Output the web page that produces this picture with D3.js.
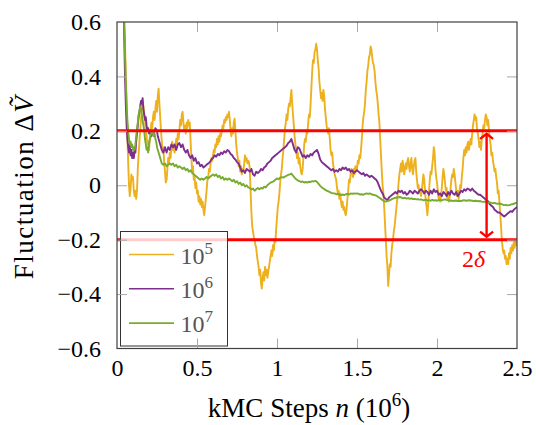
<!DOCTYPE html>
<html>
<head>
<meta charset="utf-8">
<script src="https://cdn.jsdelivr.net/npm/d3@7"></script>
<style>
  html, body { margin: 0; padding: 0; background: #fff; }
  svg { display: block; }
  svg text { font-family: "Liberation Serif", "Times New Roman", Tinos, "DejaVu Serif", "Noto Serif", serif; }
</style>
</head>
<body>
<svg id="chart" width="536" height="425"></svg>
<script>
// Fluctuation of the estimate versus number of kMC steps, for three sample sizes.

const xTicks = [0, 0.5, 1, 1.5, 2, 2.5];
const yTicks = [-0.6, -0.4, -0.2, 0, 0.2, 0.4, 0.6];
const seriesLabels = ["5", "6", "7"];           // exponents: 10^5, 10^6, 10^7
const seriesColors = ["#EDB120", "#7E2F8E", "#77AC30"];
const deltaBand = [0.2, -0.2];
const arrowStep = 2.31;

// [n (10^6 steps), ΔV]
const seriesE5 = [
  [0.035,0.9],[0.045,0.62],[0.05,0.52],[0.055,0.4],[0.06,0.3],[0.065,0.18],[0.07,0.08],[0.075,0.0],[0.08,-0.04],[0.085,-0.01],
  [0.09,0.04],[0.095,0.02],[0.1,0.03],[0.105,-0.02],[0.11,-0.04],[0.115,-0.02],[0.12,-0.05],[0.125,-0.02],[0.13,0.06],[0.135,0.11],
  [0.14,0.16],[0.145,0.2],[0.15,0.24],[0.155,0.28],[0.16,0.31],[0.165,0.29],[0.17,0.26],[0.175,0.24],[0.18,0.2],[0.185,0.18],
  [0.19,0.15],[0.195,0.16],[0.2,0.13],[0.205,0.17],[0.21,0.2],[0.215,0.23],[0.22,0.21],[0.225,0.25],[0.23,0.27],[0.235,0.24],
  [0.24,0.28],[0.245,0.31],[0.25,0.27],[0.255,0.33],[0.26,0.355],[0.265,0.3],[0.27,0.25],[0.275,0.2],[0.28,0.16],[0.285,0.12],
  [0.29,0.14],[0.295,0.08],[0.3,0.05],[0.305,0.01],[0.31,0.02],[0.315,0.06],[0.32,0.1],[0.325,0.08],[0.33,0.12],[0.335,0.1],
  [0.34,0.14],[0.345,0.16],[0.35,0.13],[0.355,0.15],[0.36,0.12],[0.365,0.14],[0.37,0.17],[0.375,0.15],[0.38,0.19],[0.385,0.17],
  [0.39,0.2],[0.395,0.24],[0.4,0.22],[0.405,0.26],[0.41,0.27],[0.415,0.23],[0.42,0.2],[0.425,0.22],[0.43,0.19],[0.435,0.23],
  [0.44,0.21],[0.445,0.24],[0.45,0.22],[0.455,0.23],[0.46,0.16],[0.465,0.1],[0.47,0.05],[0.475,0.07],[0.48,0.02],[0.485,0.03],
  [0.49,-0.01],[0.495,0.01],[0.5,-0.03],[0.505,-0.02],[0.51,-0.06],[0.515,-0.04],[0.52,-0.07],[0.525,-0.05],[0.53,-0.08],[0.535,-0.06],
  [0.54,-0.09],[0.545,-0.11],[0.55,-0.08],[0.555,-0.05],[0.56,-0.02],[0.565,0.02],[0.57,0.03],[0.575,0.06],[0.58,0.05],[0.585,0.08],
  [0.59,0.1],[0.595,0.09],[0.6,0.11],[0.605,0.13],[0.61,0.12],[0.615,0.15],[0.62,0.14],[0.625,0.17],[0.63,0.15],[0.635,0.18],
  [0.64,0.16],[0.645,0.19],[0.65,0.18],[0.655,0.2],[0.66,0.22],[0.665,0.21],[0.67,0.24],[0.675,0.23],[0.68,0.25],[0.685,0.24],
  [0.69,0.26],[0.695,0.25],[0.7,0.27],[0.705,0.24],[0.71,0.2],[0.715,0.18],[0.72,0.21],[0.725,0.19],[0.73,0.23],[0.735,0.245],
  [0.74,0.2],[0.745,0.15],[0.75,0.12],[0.755,0.1],[0.76,0.07],[0.765,0.09],[0.77,0.05],[0.775,0.07],[0.78,0.04],[0.785,0.06],
  [0.79,0.05],[0.795,0.08],[0.8,0.11],[0.805,0.09],[0.81,0.1],[0.815,0.08],[0.82,0.09],[0.825,0.085],[0.83,0.06],[0.835,-0.02],
  [0.84,-0.1],[0.845,-0.15],[0.85,-0.17],[0.855,-0.19],[0.86,-0.2],[0.865,-0.22],[0.87,-0.23],[0.875,-0.26],[0.88,-0.28],[0.885,-0.3],
  [0.89,-0.33],[0.895,-0.31],[0.9,-0.36],[0.905,-0.38],[0.91,-0.34],[0.915,-0.32],[0.92,-0.35],[0.925,-0.3],[0.93,-0.33],[0.935,-0.31],
  [0.94,-0.34],[0.945,-0.32],[0.95,-0.3],[0.955,-0.28],[0.96,-0.26],[0.965,-0.24],[0.97,-0.26],[0.975,-0.22],[0.98,-0.24],[0.985,-0.2],
  [0.99,-0.21],[0.995,-0.16],[1.0,-0.12],[1.005,-0.08],[1.01,-0.06],[1.015,-0.03],[1.02,0.01],[1.025,0.04],[1.03,0.06],[1.035,0.1],
  [1.04,0.13],[1.045,0.17],[1.05,0.21],[1.055,0.23],[1.06,0.26],[1.065,0.24],[1.07,0.28],[1.075,0.3],[1.08,0.29],[1.085,0.32],
  [1.09,0.35],[1.095,0.3],[1.1,0.26],[1.105,0.22],[1.11,0.18],[1.115,0.15],[1.12,0.13],[1.125,0.1],[1.13,0.12],[1.135,0.08],
  [1.14,0.1],[1.145,0.07],[1.15,0.05],[1.155,0.04],[1.16,0.06],[1.165,0.1],[1.17,0.15],[1.175,0.17],[1.18,0.16],[1.185,0.2],
  [1.19,0.19],[1.195,0.23],[1.2,0.26],[1.205,0.25],[1.21,0.3],[1.215,0.36],[1.22,0.42],[1.225,0.46],[1.23,0.45],[1.235,0.49],
  [1.24,0.5],[1.245,0.52],[1.25,0.5],[1.255,0.46],[1.26,0.43],[1.265,0.38],[1.27,0.35],[1.275,0.32],[1.28,0.34],[1.285,0.31],
  [1.29,0.35],[1.295,0.33],[1.3,0.28],[1.305,0.25],[1.31,0.22],[1.315,0.2],[1.32,0.19],[1.325,0.21],[1.33,0.17],[1.335,0.13],
  [1.34,0.11],[1.345,0.12],[1.35,0.08],[1.355,0.06],[1.36,0.04],[1.365,0.03],[1.37,0.02],[1.375,-0.01],[1.38,-0.03],[1.385,-0.02],
  [1.39,-0.05],[1.395,-0.03],[1.4,-0.06],[1.405,-0.08],[1.41,-0.06],[1.415,-0.09],[1.42,-0.08],[1.425,-0.1],[1.43,-0.11],[1.435,-0.09],
  [1.44,-0.05],[1.445,-0.02],[1.45,0.02],[1.455,0.01],[1.46,0.04],[1.465,0.06],[1.47,0.05],[1.475,0.03],[1.48,0.06],[1.485,0.04],
  [1.49,0.07],[1.495,0.05],[1.5,0.06],[1.505,0.09],[1.51,0.08],[1.515,0.11],[1.52,0.1],[1.525,0.13],[1.53,0.17],[1.535,0.22],
  [1.54,0.25],[1.545,0.27],[1.55,0.3],[1.555,0.35],[1.56,0.38],[1.565,0.42],[1.57,0.44],[1.575,0.47],[1.58,0.48],[1.585,0.51],
  [1.59,0.5],[1.595,0.47],[1.6,0.45],[1.605,0.44],[1.61,0.42],[1.615,0.38],[1.62,0.35],[1.625,0.33],[1.63,0.3],[1.635,0.26],
  [1.64,0.23],[1.645,0.17],[1.65,0.11],[1.655,0.05],[1.66,0.0],[1.665,-0.03],[1.67,-0.08],[1.675,-0.14],[1.68,-0.2],[1.685,-0.26],
  [1.69,-0.3],[1.695,-0.37],[1.7,-0.33],[1.705,-0.29],[1.71,-0.3],[1.715,-0.25],[1.72,-0.22],[1.725,-0.2],[1.73,-0.17],[1.735,-0.15],
  [1.74,-0.12],[1.745,-0.09],[1.75,-0.06],[1.755,-0.03],[1.76,0.01],[1.765,0.04],[1.77,0.06],[1.775,0.08],[1.78,0.05],[1.785,0.09],
  [1.79,0.07],[1.795,0.04],[1.8,0.06],[1.805,0.08],[1.81,0.06],[1.815,0.09],[1.82,0.1],[1.825,0.07],[1.83,0.05],[1.835,0.08],
  [1.84,0.1],[1.845,0.06],[1.85,0.04],[1.855,0.07],[1.86,0.09],[1.865,0.1],[1.87,0.05],[1.875,0.02],[1.88,-0.01],[1.885,0.0],
  [1.89,-0.03],[1.895,-0.02],[1.9,-0.04],[1.905,-0.02],[1.91,0.01],[1.915,0.04],[1.92,0.02],[1.925,-0.02],[1.93,-0.06],[1.935,-0.08],
  [1.94,-0.11],[1.945,-0.07],[1.95,-0.02],[1.955,0.02],[1.96,0.05],[1.965,0.04],[1.97,0.07],[1.975,0.1],[1.98,0.14],[1.985,0.12],
  [1.99,0.06],[1.995,0.03],[2.0,0.01],[2.005,-0.02],[2.01,-0.05],[2.015,-0.03],[2.02,-0.06],[2.025,-0.04],[2.03,-0.01],[2.035,0.03],
  [2.04,0.06],[2.045,0.04],[2.05,0.01],[2.055,-0.02],[2.06,-0.01],[2.065,-0.05],[2.07,-0.03],[2.075,-0.06],[2.08,-0.04],[2.085,-0.01],
  [2.09,0.02],[2.095,0.04],[2.1,0.03],[2.105,0.06],[2.11,0.04],[2.115,0.01],[2.12,-0.02],[2.125,-0.04],[2.13,-0.02],[2.135,-0.05],
  [2.14,-0.03],[2.145,0.0],[2.15,-0.01],[2.155,0.03],[2.16,0.06],[2.165,0.1],[2.17,0.13],[2.175,0.11],[2.18,0.14],[2.185,0.12],
  [2.19,0.15],[2.195,0.16],[2.2,0.13],[2.205,0.15],[2.21,0.17],[2.215,0.15],[2.22,0.19],[2.225,0.22],[2.23,0.24],[2.235,0.26],
  [2.24,0.24],[2.245,0.25],[2.25,0.21],[2.255,0.19],[2.26,0.17],[2.265,0.14],[2.27,0.16],[2.275,0.13],[2.28,0.17],[2.285,0.19],
  [2.29,0.22],[2.295,0.21],[2.3,0.24],[2.305,0.26],[2.31,0.25],[2.315,0.22],[2.32,0.24],[2.325,0.2],[2.33,0.17],[2.335,0.15],
  [2.34,0.11],[2.345,0.12],[2.35,0.09],[2.355,0.07],[2.36,0.05],[2.365,0.06],[2.37,0.03],[2.375,0.01],[2.38,-0.03],[2.385,-0.02],
  [2.39,-0.06],[2.395,-0.1],[2.4,-0.15],[2.405,-0.2],[2.41,-0.23],[2.415,-0.25],[2.42,-0.24],[2.425,-0.27],[2.43,-0.26],[2.435,-0.29],
  [2.44,-0.27],[2.445,-0.29],[2.45,-0.25],[2.455,-0.27],[2.46,-0.23],[2.465,-0.25],[2.47,-0.22],[2.475,-0.24],[2.48,-0.21],[2.485,-0.23],
  [2.49,-0.2],[2.495,-0.22],[2.5,-0.21]
];

const seriesE6 = [
  [0.035,0.9],[0.045,0.55],[0.05,0.4],[0.055,0.3],[0.06,0.22],[0.065,0.17],[0.07,0.14],[0.075,0.12],[0.08,0.15],[0.085,0.11],
  [0.09,0.13],[0.095,0.1],[0.1,0.12],[0.105,0.1],[0.11,0.13],[0.115,0.12],[0.12,0.16],[0.125,0.19],[0.13,0.22],[0.135,0.25],
  [0.14,0.27],[0.145,0.29],[0.15,0.31],[0.155,0.3],[0.16,0.32],[0.165,0.28],[0.17,0.26],[0.175,0.24],[0.18,0.25],[0.185,0.22],
  [0.19,0.2],[0.195,0.21],[0.2,0.19],[0.21,0.2],[0.215,0.18],[0.22,0.19],[0.225,0.2],[0.23,0.19],[0.24,0.21],[0.25,0.2],
  [0.255,0.18],[0.26,0.17],[0.27,0.15],[0.28,0.13],[0.29,0.12],[0.3,0.14],[0.31,0.12],[0.32,0.14],[0.33,0.13],[0.34,0.15],
  [0.35,0.14],[0.36,0.15],[0.37,0.13],[0.38,0.15],[0.39,0.155],[0.4,0.14],[0.41,0.15],[0.42,0.13],[0.43,0.12],[0.44,0.13],
  [0.45,0.11],[0.46,0.1],[0.47,0.11],[0.48,0.09],[0.49,0.1],[0.5,0.08],[0.51,0.085],[0.52,0.07],[0.53,0.075],[0.54,0.065],
  [0.55,0.07],[0.56,0.075],[0.57,0.08],[0.58,0.085],[0.59,0.095],[0.6,0.1],[0.61,0.11],[0.62,0.105],[0.63,0.115],[0.64,0.11],
  [0.65,0.12],[0.66,0.115],[0.67,0.125],[0.68,0.12],[0.69,0.13],[0.7,0.125],[0.71,0.115],[0.72,0.11],[0.73,0.1],[0.74,0.095],
  [0.75,0.085],[0.76,0.08],[0.77,0.065],[0.78,0.05],[0.79,0.055],[0.8,0.045],[0.81,0.06],[0.82,0.055],[0.83,0.05],[0.84,0.06],
  [0.85,0.04],[0.86,0.035],[0.87,0.05],[0.88,0.045],[0.89,0.05],[0.9,0.06],[0.91,0.055],[0.92,0.065],[0.93,0.07],[0.94,0.08],
  [0.95,0.085],[0.96,0.09],[0.97,0.1],[0.98,0.105],[0.99,0.11],[1.0,0.115],[1.01,0.12],[1.02,0.125],[1.03,0.13],[1.04,0.135],
  [1.05,0.14],[1.06,0.145],[1.07,0.155],[1.08,0.16],[1.09,0.17],[1.095,0.16],[1.1,0.15],[1.11,0.13],[1.12,0.12],[1.13,0.14],
  [1.14,0.135],[1.15,0.12],[1.16,0.105],[1.17,0.11],[1.18,0.1],[1.19,0.11],[1.2,0.105],[1.21,0.115],[1.22,0.11],[1.23,0.12],
  [1.24,0.125],[1.25,0.13],[1.26,0.115],[1.27,0.095],[1.28,0.085],[1.29,0.08],[1.3,0.075],[1.31,0.07],[1.32,0.065],[1.33,0.06],
  [1.34,0.055],[1.35,0.06],[1.36,0.05],[1.37,0.055],[1.38,0.05],[1.39,0.06],[1.4,0.055],[1.41,0.065],[1.42,0.06],[1.43,0.065],
  [1.44,0.055],[1.45,0.06],[1.46,0.05],[1.47,0.055],[1.48,0.045],[1.49,0.05],[1.5,0.055],[1.51,0.05],[1.52,0.045],[1.53,0.04],
  [1.54,0.045],[1.55,0.035],[1.56,0.04],[1.57,0.035],[1.58,0.03],[1.59,0.035],[1.6,0.03],[1.61,0.025],[1.62,0.02],[1.63,0.01],
  [1.64,-0.005],[1.65,-0.02],[1.66,-0.03],[1.67,-0.045],[1.68,-0.05],[1.69,-0.055],[1.7,-0.045],[1.71,-0.04],[1.72,-0.035],[1.73,-0.03],
  [1.74,-0.025],[1.75,-0.03],[1.76,-0.02],[1.77,-0.025],[1.78,-0.02],[1.79,-0.03],[1.8,-0.025],[1.81,-0.035],[1.82,-0.03],[1.83,-0.02],
  [1.84,-0.025],[1.85,-0.03],[1.86,-0.02],[1.87,-0.025],[1.88,-0.03],[1.89,-0.02],[1.9,-0.015],[1.91,-0.02],[1.92,-0.03],[1.93,-0.02],
  [1.94,-0.025],[1.95,-0.035],[1.96,-0.02],[1.97,-0.03],[1.98,-0.015],[1.99,-0.025],[2.0,-0.02],[2.01,-0.035],[2.02,-0.03],[2.03,-0.04],
  [2.04,-0.025],[2.05,-0.03],[2.06,-0.04],[2.07,-0.025],[2.08,-0.035],[2.09,-0.02],[2.1,-0.03],[2.11,-0.035],[2.12,-0.025],[2.13,-0.04],
  [2.14,-0.03],[2.15,-0.02],[2.16,-0.025],[2.17,-0.015],[2.18,-0.02],[2.19,-0.012],[2.2,-0.015],[2.21,-0.02],[2.22,-0.012],[2.23,-0.02],
  [2.24,-0.025],[2.25,-0.03],[2.26,-0.035],[2.27,-0.035],[2.28,-0.04],[2.29,-0.045],[2.3,-0.05],[2.31,-0.055],[2.32,-0.06],[2.33,-0.07],
  [2.34,-0.075],[2.35,-0.08],[2.36,-0.09],[2.37,-0.095],[2.38,-0.1],[2.39,-0.1],[2.4,-0.105],[2.41,-0.11],[2.42,-0.115],[2.43,-0.11],
  [2.44,-0.105],[2.45,-0.1],[2.46,-0.095],[2.47,-0.098],[2.48,-0.09],[2.49,-0.085],[2.5,-0.08]
];

const seriesE7 = [
  [0.035,0.9],[0.045,0.6],[0.05,0.48],[0.055,0.38],[0.06,0.3],[0.065,0.24],[0.07,0.2],[0.075,0.17],[0.08,0.15],[0.085,0.16],
  [0.09,0.14],[0.095,0.15],[0.1,0.13],[0.105,0.14],[0.11,0.13],[0.115,0.15],[0.12,0.18],[0.125,0.21],[0.13,0.23],[0.135,0.26],
  [0.14,0.27],[0.145,0.29],[0.15,0.28],[0.155,0.26],[0.16,0.24],[0.165,0.22],[0.17,0.2],[0.175,0.17],[0.18,0.15],[0.185,0.13],
  [0.19,0.14],[0.195,0.12],[0.2,0.15],[0.205,0.17],[0.21,0.18],[0.215,0.2],[0.22,0.19],[0.225,0.2],[0.23,0.18],[0.235,0.19],
  [0.24,0.17],[0.245,0.16],[0.25,0.14],[0.26,0.12],[0.27,0.1],[0.28,0.08],[0.29,0.075],[0.3,0.08],[0.31,0.07],[0.32,0.075],
  [0.33,0.08],[0.34,0.075],[0.35,0.08],[0.36,0.07],[0.37,0.075],[0.38,0.065],[0.39,0.07],[0.4,0.065],[0.41,0.06],[0.42,0.065],
  [0.43,0.055],[0.44,0.06],[0.45,0.05],[0.46,0.055],[0.47,0.045],[0.48,0.04],[0.49,0.035],[0.5,0.03],[0.51,0.025],[0.52,0.02],
  [0.53,0.025],[0.54,0.02],[0.55,0.025],[0.56,0.03],[0.57,0.025],[0.58,0.03],[0.59,0.035],[0.6,0.04],[0.61,0.035],[0.62,0.04],
  [0.63,0.03],[0.64,0.035],[0.65,0.025],[0.66,0.03],[0.67,0.02],[0.68,0.025],[0.69,0.02],[0.7,0.025],[0.71,0.02],[0.72,0.015],
  [0.73,0.02],[0.74,0.01],[0.75,0.015],[0.76,0.005],[0.77,0.01],[0.78,0.0],[0.79,0.005],[0.8,-0.005],[0.81,0.0],[0.82,-0.008],
  [0.83,-0.01],[0.84,-0.015],[0.85,-0.012],[0.86,-0.02],[0.87,-0.015],[0.88,-0.01],[0.89,-0.015],[0.9,-0.01],[0.91,-0.012],[0.92,-0.005],
  [0.93,-0.008],[0.94,0.0],[0.95,0.005],[0.96,0.01],[0.97,0.012],[0.98,0.015],[0.99,0.02],[1.0,0.025],[1.01,0.022],[1.02,0.028],
  [1.03,0.03],[1.04,0.028],[1.05,0.032],[1.06,0.035],[1.07,0.038],[1.08,0.04],[1.09,0.043],[1.1,0.035],[1.11,0.028],[1.12,0.022],
  [1.13,0.018],[1.14,0.015],[1.15,0.012],[1.16,0.014],[1.17,0.01],[1.18,0.012],[1.19,0.01],[1.2,0.013],[1.21,0.012],[1.22,0.015],
  [1.23,0.014],[1.24,0.016],[1.25,0.012],[1.26,0.005],[1.27,-0.002],[1.28,-0.008],[1.29,-0.012],[1.3,-0.016],[1.31,-0.02],[1.32,-0.022],
  [1.33,-0.025],[1.34,-0.028],[1.35,-0.03],[1.36,-0.03],[1.37,-0.033],[1.38,-0.032],[1.39,-0.035],[1.4,-0.036],[1.41,-0.034],[1.42,-0.036],
  [1.43,-0.033],[1.44,-0.032],[1.45,-0.034],[1.46,-0.03],[1.47,-0.032],[1.48,-0.03],[1.49,-0.031],[1.5,-0.03],[1.51,-0.032],[1.52,-0.034],
  [1.53,-0.033],[1.54,-0.035],[1.55,-0.032],[1.56,-0.03],[1.57,-0.032],[1.58,-0.03],[1.59,-0.033],[1.6,-0.035],[1.61,-0.036],[1.62,-0.038],
  [1.63,-0.042],[1.64,-0.046],[1.65,-0.05],[1.66,-0.055],[1.67,-0.058],[1.68,-0.06],[1.69,-0.058],[1.7,-0.056],[1.71,-0.054],[1.72,-0.05],
  [1.73,-0.048],[1.74,-0.046],[1.75,-0.045],[1.76,-0.044],[1.77,-0.043],[1.78,-0.046],[1.79,-0.048],[1.8,-0.046],[1.81,-0.049],[1.82,-0.047],
  [1.83,-0.05],[1.84,-0.048],[1.85,-0.051],[1.86,-0.05],[1.87,-0.052],[1.88,-0.051],[1.89,-0.053],[1.9,-0.052],[1.91,-0.054],[1.92,-0.055],
  [1.93,-0.053],[1.94,-0.056],[1.95,-0.055],[1.96,-0.057],[1.97,-0.054],[1.98,-0.056],[1.99,-0.055],[2.0,-0.057],[2.01,-0.055],[2.02,-0.054],
  [2.03,-0.056],[2.04,-0.053],[2.05,-0.052],[2.06,-0.054],[2.07,-0.055],[2.08,-0.057],[2.09,-0.056],[2.1,-0.058],[2.11,-0.057],[2.12,-0.056],
  [2.13,-0.058],[2.14,-0.057],[2.15,-0.058],[2.16,-0.056],[2.17,-0.055],[2.18,-0.057],[2.19,-0.056],[2.2,-0.055],[2.21,-0.056],[2.22,-0.057],
  [2.23,-0.058],[2.24,-0.057],[2.25,-0.058],[2.26,-0.059],[2.27,-0.058],[2.28,-0.06],[2.29,-0.061],[2.3,-0.06],[2.31,-0.062],[2.32,-0.064],
  [2.33,-0.063],[2.34,-0.065],[2.35,-0.066],[2.36,-0.065],[2.37,-0.067],[2.38,-0.068],[2.39,-0.067],[2.4,-0.069],[2.41,-0.071],[2.42,-0.073],
  [2.43,-0.072],[2.44,-0.074],[2.45,-0.073],[2.46,-0.071],[2.47,-0.07],[2.48,-0.068],[2.49,-0.066],[2.5,-0.064]
];

const allSeries = [seriesE5, seriesE6, seriesE7];

const svg = d3.select("#chart");
const plot = { left: 117, right: 517, top: 22, bottom: 348.5 };
const serif = "'Liberation Serif', 'Times New Roman', Tinos, 'DejaVu Serif', 'Noto Serif', serif";

const x = d3.scaleLinear().domain([0, 2.5]).range([plot.left, plot.right]);
const y = d3.scaleLinear().domain([-0.6, 0.6]).range([plot.bottom, plot.top]);

svg.append("defs").append("clipPath").attr("id", "plot-clip")
  .append("rect")
  .attr("x", plot.left).attr("y", plot.top)
  .attr("width", plot.right - plot.left).attr("height", plot.bottom - plot.top);

// data curves
const line = d3.line().x(d => x(d[0])).y(d => y(d[1]));
const curves = svg.append("g").attr("clip-path", "url(#plot-clip)");
allSeries.forEach((s, i) => {
  curves.append("path")
    .datum(s)
    .attr("d", line)
    .attr("fill", "none")
    .attr("stroke", seriesColors[i])
    .attr("stroke-width", 1.9)
    .attr("stroke-linejoin", "round");
});

// ±δ band limits
svg.append("g").selectAll("line").data(deltaBand).join("line")
  .attr("x1", plot.left).attr("x2", plot.right)
  .attr("y1", d => y(d)).attr("y2", d => y(d))
  .attr("stroke", "#ff0000").attr("stroke-width", 3);

// 2δ double arrow
const ax = x(arrowStep);
const arrow = svg.append("g").attr("stroke", "#ff0000").attr("fill", "none")
  .attr("stroke-width", 2.4).attr("stroke-linecap", "butt");
arrow.append("line")
  .attr("x1", ax).attr("x2", ax)
  .attr("y1", y(deltaBand[0]) + 3).attr("y2", y(deltaBand[1]) - 3);
arrow.append("path")
  .attr("d", `M${ax - 6.5},${y(deltaBand[0]) + 8} L${ax},${y(deltaBand[0]) + 3} L${ax + 6.5},${y(deltaBand[0]) + 8}`);
arrow.append("path")
  .attr("d", `M${ax - 6.5},${y(deltaBand[1]) - 8} L${ax},${y(deltaBand[1]) - 3} L${ax + 6.5},${y(deltaBand[1]) - 8}`);

const deltaLabel = svg.append("text")
  .attr("x", ax - 1.5).attr("y", y(deltaBand[1]) + 27)
  .attr("text-anchor", "end")
  .attr("fill", "#ff0000")
  .style("font-family", serif)
  .style("font-size", "24px");
deltaLabel.append("tspan").text("2");
deltaLabel.append("tspan").attr("font-style", "italic").text("δ");

// legend
const legend = svg.append("g");
legend.append("rect")
  .attr("x", 120.5).attr("y", 231.5).attr("width", 107).attr("height", 114.5)
  .attr("fill", "#ffffff").attr("fill-opacity", 0.8)
  .attr("stroke", "#333").attr("stroke-width", 1);
seriesLabels.forEach((lab, i) => {
  const ly = 254.5 + i * 34.3;
  legend.append("line")
    .attr("x1", 129).attr("x2", 174).attr("y1", ly).attr("y2", ly)
    .attr("stroke", seriesColors[i]).attr("stroke-width", 1.6);
  const t = legend.append("text")
    .attr("x", 180.5).attr("y", ly + 9)
    .attr("fill", "#555")
    .style("font-family", serif)
    .style("font-size", "24px");
  t.append("tspan").text("10");
  t.append("tspan").attr("dy", -10).style("font-size", "17px").text(lab);
});

// axes: inward gray ticks on all four sides
const fmtY = d => d === 0 ? "0" : d3.format(".1f")(d);
const tickColor = "#a8a8a8";

const gx = svg.append("g").attr("transform", `translate(0,${plot.bottom})`)
  .call(d3.axisBottom(x).tickValues(xTicks).tickSize(-10).tickPadding(10).tickFormat(d3.format("")));
const gy = svg.append("g").attr("transform", `translate(${plot.left},0)`)
  .call(d3.axisLeft(y).tickValues(yTicks).tickSize(-10).tickPadding(16).tickFormat(fmtY));
const gxt = svg.append("g").attr("transform", `translate(0,${plot.top})`)
  .call(d3.axisTop(x).tickValues(xTicks).tickSize(-10).tickFormat(""));
const gyr = svg.append("g").attr("transform", `translate(${plot.right},0)`)
  .call(d3.axisRight(y).tickValues(yTicks).tickSize(-10).tickFormat(""));

[gx, gy, gxt, gyr].forEach(g => {
  g.attr("font-family", null).attr("font-size", null);
  g.select(".domain").remove();
  g.selectAll(".tick line").attr("stroke", tickColor).attr("stroke-width", 1);
  g.selectAll(".tick text")
    .attr("fill", "#000")
    .style("font-family", serif)
    .style("font-size", "24px");
});
// drop end ticks that sit on the frame
[gx, gxt].forEach(g => g.selectAll(".tick").filter(d => d === 0 || d === 2.5).select("line").remove());
[gy, gyr].forEach(g => g.selectAll(".tick").filter(d => d === -0.6 || d === 0.6).select("line").remove());

// frame
svg.append("rect")
  .attr("x", plot.left).attr("y", plot.top)
  .attr("width", plot.right - plot.left).attr("height", plot.bottom - plot.top)
  .attr("fill", "none").attr("stroke", "#404040").attr("stroke-width", 1.2);

// axis titles
const xTitle = svg.append("text")
  .attr("x", 309).attr("y", 417)
  .attr("text-anchor", "middle")
  .style("font-family", serif)
  .style("font-size", "27px");
xTitle.append("tspan").text("kMC Steps ");
xTitle.append("tspan").attr("font-style", "italic").text("n");
xTitle.append("tspan").text(" (10");
xTitle.append("tspan").attr("dy", -11).style("font-size", "19px").text("6");
xTitle.append("tspan").attr("dy", 11).text(")");

const yTitle = svg.append("text")
  .attr("transform", `translate(33,187) rotate(-90)`)
  .attr("text-anchor", "middle")
  .style("font-family", serif)
  .style("font-size", "27px")
  .style("letter-spacing", "1.5px");
yTitle.append("tspan").text("Fluctuation Δ");
yTitle.append("tspan").attr("font-style", "italic").text("V\u0303");
</script>
</body>
</html>
